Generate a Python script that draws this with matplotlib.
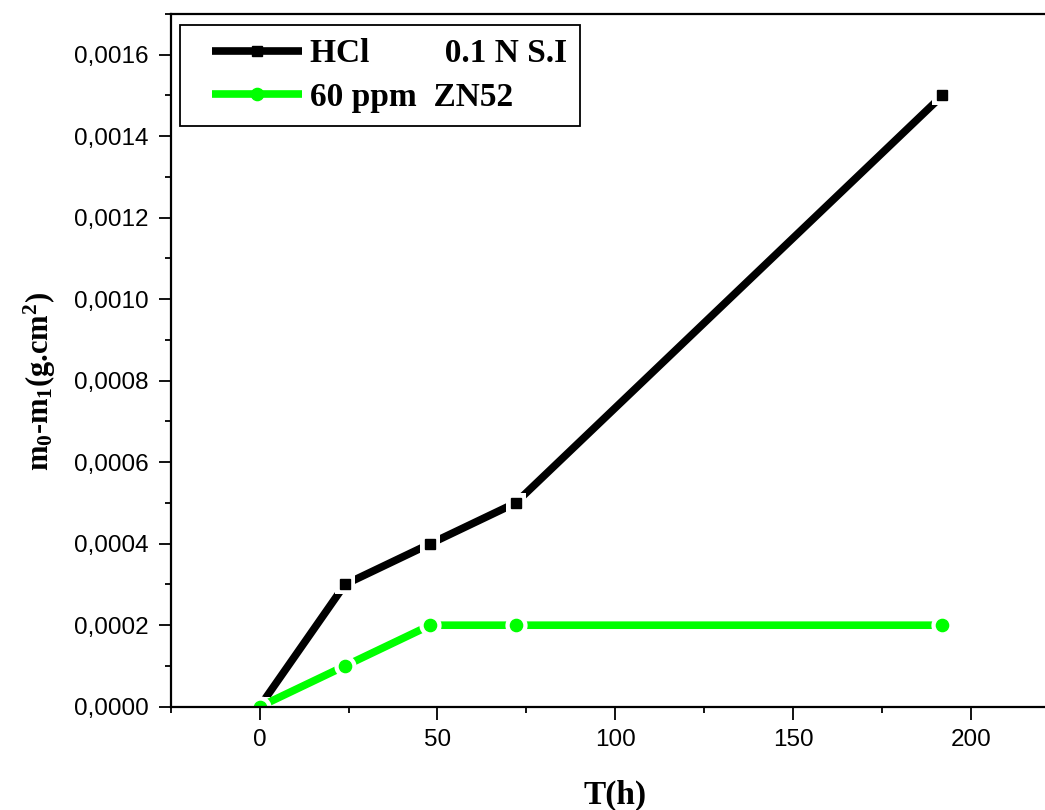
import numpy as np
import matplotlib
matplotlib.use("Agg")
import matplotlib.pyplot as plt
from matplotlib.ticker import MultipleLocator, FuncFormatter
from matplotlib.lines import Line2D
from matplotlib.legend_handler import HandlerLine2D

# immersion time (h) and mass loss (g/cm2)
t_hours = [0, 24, 48, 72, 192]
loss_hcl = [0.0, 0.0003, 0.0004, 0.0005, 0.0015]
loss_zn52 = [0.0, 0.0001, 0.0002, 0.0002, 0.0002]

label_hcl = "HCl         0.1 N S.I"
label_zn52 = "60 ppm  ZN52"

plt.rcParams['mathtext.default'] = 'regular'

fig = plt.figure(figsize=(10.45, 8.10), dpi=100)
ax = fig.add_axes([170.7 / 1045, 1 - 706.7 / 810, 889 / 1045, 692.7 / 810])

series = [
    (loss_hcl, 'black', 's', 7.2, 14, label_hcl),
    (loss_zn52, '#00ff00', 'o', 8.8, 16, label_zn52),
]
for i, (vals, col, mk, ms, gap, lab) in enumerate(series):
    z = 3 + 3 * i
    ax.plot(t_hours, vals, color=col, lw=5.5, marker=mk, ms=ms, mec=col,
            label=lab, zorder=z, solid_capstyle='butt')
    # white halo so the line breaks around each point
    ax.plot(t_hours, vals, ls='none', marker=mk, ms=gap, mfc='white',
            mec='white', mew=0, zorder=z + 1)
    ax.plot(t_hours, vals, ls='none', marker=mk, ms=ms, mfc=col, mec=col,
            zorder=z + 2)

ax.set_xlim(-25, 225)
ax.set_ylim(0, 0.0017)
ax.xaxis.set_major_locator(MultipleLocator(50))
ax.xaxis.set_minor_locator(MultipleLocator(25))
ax.yaxis.set_major_locator(MultipleLocator(0.0002))
ax.yaxis.set_minor_locator(MultipleLocator(0.0001))
ax.yaxis.set_major_formatter(FuncFormatter(lambda v, p: f"{v:.4f}".replace('.', ',')))

for s in ['left', 'bottom', 'top']:
    ax.spines[s].set_linewidth(1.6)
    ax.spines[s].set_zorder(12)
ax.spines['right'].set_visible(False)

ax.tick_params(which='major', direction='out', length=9, width=1.3,
               labelsize=17.5, pad=7, top=False, right=False)
ax.tick_params(which='minor', direction='out', length=4.5, width=1.3,
               top=False, right=False)
for lbl in ax.get_xticklabels() + ax.get_yticklabels():
    lbl.set_fontfamily('Liberation Sans')

ax.set_xlabel("T(h)", fontfamily='Liberation Serif', fontweight='bold',
              fontsize=24, labelpad=21)
ax.set_ylabel("m$_0$-m$_1$(g.cm$^2$)", fontfamily='Liberation Serif',
              fontweight='bold', fontsize=22)
ax.yaxis.set_label_coords(-0.127, 0.469)

leg = ax.legend(loc='upper left', bbox_to_anchor=(0.0105, 0.984),
                borderaxespad=0, handlelength=3.25, handletextpad=0.25,
                borderpad=0.4, labelspacing=0.38, fancybox=False,
                framealpha=1, edgecolor='black',
                handler_map={Line2D: HandlerLine2D(xpad=0.55)},
                prop={'family': 'Liberation Serif', 'weight': 'bold', 'size': 24})
leg.get_frame().set_linewidth(1.3)
leg.set_zorder(20)

fig.savefig("out.png", dpi=100)
